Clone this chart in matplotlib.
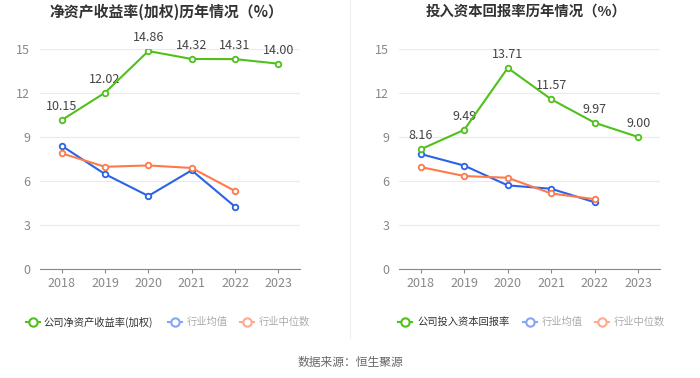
import matplotlib
matplotlib.use("Agg")
import matplotlib.pyplot as plt
from matplotlib.lines import Line2D

plt.rcParams['font.family'] = ['Noto Sans CJK SC', 'DejaVu Sans']

years = ['2018', '2019', '2020', '2021', '2022', '2023']

roe_company = [10.15, 12.02, 14.86, 14.32, 14.31, 14.00]
roe_avg = [8.40, 6.47, 4.98, 6.73, 4.25]
roe_median = [7.89, 6.97, 7.06, 6.89, 5.32]

roic_company = [8.16, 9.49, 13.71, 11.57, 9.97, 9.00]
roic_avg = [7.84, 7.05, 5.70, 5.47, 4.55]
roic_median = [6.95, 6.34, 6.22, 5.15, 4.76]

titles = ['净资产收益率(加权)历年情况（%）', '投入资本回报率历年情况（%）']
company_labels = ['公司净资产收益率(加权)', '公司投入资本回报率']
avg_label = '行业均值'
median_label = '行业中位数'
source = '数据来源：恒生聚源'
yticks = [0, 3, 6, 9, 12, 15]

GREEN = '#52c01c'
BLUE = '#2a63e6'
ORANGE = '#ff7a4a'
GREEN_L = '#52c01c'
BLUE_L = '#86a6f2'
ORANGE_L = '#ffaa8c'

W, H = 700, 378
fig = plt.figure(figsize=(7, 3.78), dpi=100)


def fx(px):
    return px / W


def fy(py):
    return 1 - py / H


axes_px = [(40, 300), (399, 660)]
top_px, bot_px = 49, 269
datasets = [(roe_company, roe_avg, roe_median), (roic_company, roic_avg, roic_median)]
title_x = [166, 526]
title_fs = [10.7, 10.4]

for i, ((l, r), (comp, avg, med)) in enumerate(zip(axes_px, datasets)):
    ax = fig.add_axes([fx(l), fy(bot_px), fx(r - l), (bot_px - top_px) / H])
    x = list(range(len(years)))
    ax.plot(x[:len(avg)], avg, color=BLUE, lw=1.5, marker='o', ms=4,
            mfc='white', mec=BLUE, mew=1.3, zorder=3)
    ax.plot(x[:len(med)], med, color=ORANGE, lw=1.5, marker='o', ms=4,
            mfc='white', mec=ORANGE, mew=1.3, zorder=3)
    ax.plot(x, comp, color=GREEN, lw=1.5, marker='o', ms=4,
            mfc='white', mec=GREEN, mew=1.3, zorder=4)
    for xi, v in zip(x, comp):
        ax.annotate(f'{v:.2f}', (xi, v), xytext=(0, 5), textcoords='offset points',
                    ha='center', va='bottom', fontsize=9, color='#444444',
                    annotation_clip=False)
    ax.set_xlim(-0.5, len(years) - 0.5)
    ax.set_ylim(0, 15)
    ax.set_xticks(x)
    ax.set_xticklabels(years)
    ax.set_yticks(yticks)
    ax.tick_params(axis='x', length=3, color='#888888', labelsize=9, labelcolor='#888888', pad=3)
    ax.tick_params(axis='y', length=0, labelsize=9, labelcolor='#888888', pad=7)
    for sp in ['top', 'right', 'left']:
        ax.spines[sp].set_visible(False)
    ax.spines['bottom'].set_color('#888888')
    ax.grid(axis='y', color='#e6ebf3', lw=0.8)
    ax.set_axisbelow(True)
    ax.patch.set_alpha(0)

    fig.text(fx(title_x[i]), fy(12), titles[i], ha='center', va='center',
             fontsize=title_fs[i], fontweight='bold', color='#333333')

# legends: (icon centre px, text start px)
leg_specs = [
    [(33, 43, GREEN_L, company_labels[0], '#333333'),
     (175, 187, BLUE_L, avg_label, '#aaaaaa'),
     (247, 259, ORANGE_L, median_label, '#aaaaaa')],
    [(405, 417, GREEN_L, company_labels[1], '#333333'),
     (530, 542, BLUE_L, avg_label, '#aaaaaa'),
     (602, 614, ORANGE_L, median_label, '#aaaaaa')],
]
ly = fy(322)
for group in leg_specs:
    for cpx, tpx, col, txt, tcol in group:
        fig.add_artist(Line2D([fx(cpx - 7), fx(cpx + 7)], [ly, ly], color=col, lw=1.5,
                              transform=fig.transFigure))
        fig.add_artist(Line2D([fx(cpx)], [ly], color=col, marker='o', ms=6, mfc='white',
                              mec=col, mew=1.5, transform=fig.transFigure))
        fig.text(fx(tpx), ly, txt, ha='left', va='center', fontsize=7.4, color=tcol)

# divider
fig.add_artist(Line2D([fx(350), fx(350)], [fy(0), fy(338)], color='#eeeeee', lw=0.8,
                      transform=fig.transFigure))

fig.text(0.5, fy(362), source, ha='center', va='center', fontsize=8.5, color='#666666')

fig.savefig('out.png', dpi=100, facecolor='white')
